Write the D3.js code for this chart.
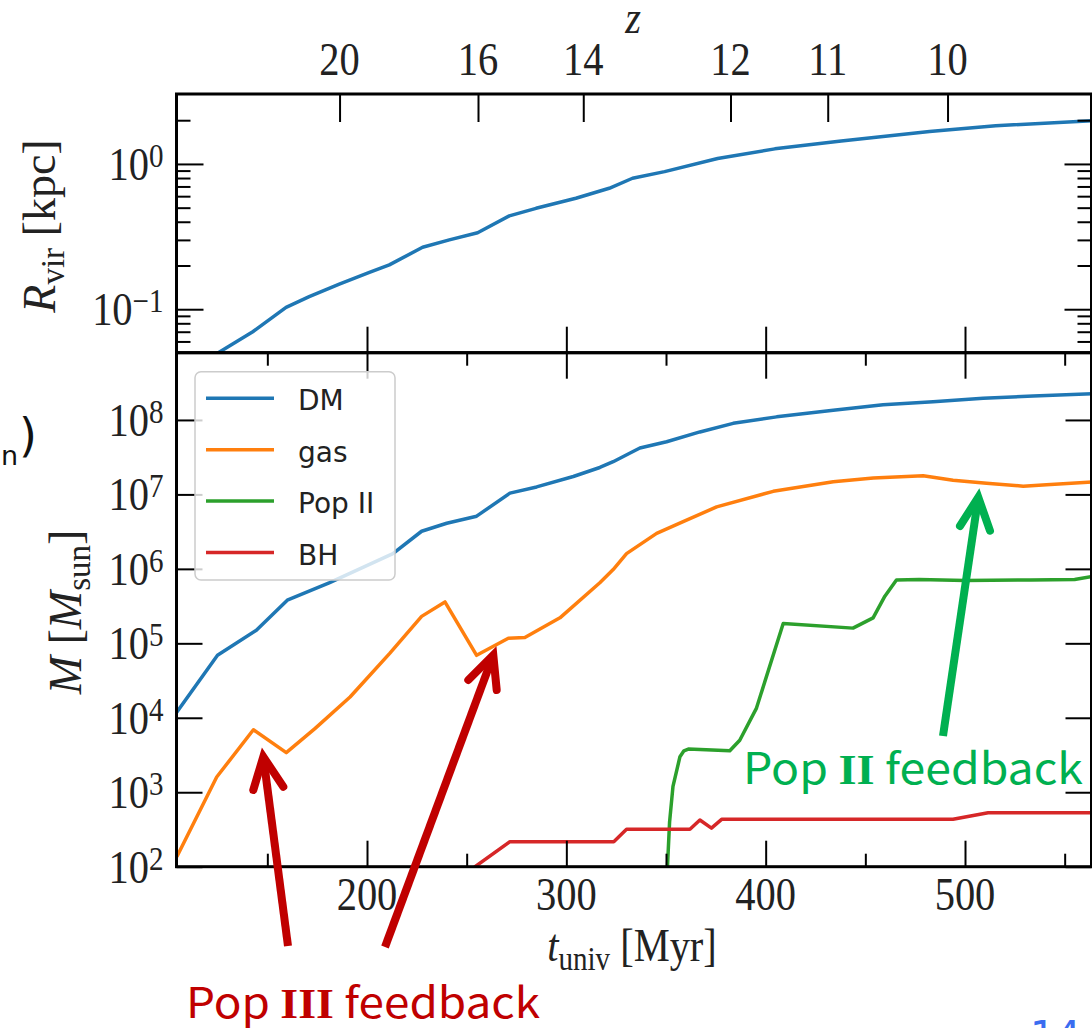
<!DOCTYPE html>
<html>
<head>
<meta charset="utf-8">
<script src="https://cdn.jsdelivr.net/npm/d3@7"></script>
<style>
  html, body { margin: 0; padding: 0; background: #fff; }
  svg { display: block; }
</style>
</head>
<body>
<svg id="fig" width="1092" height="1028"></svg>
<script>
// ---- halo assembly history: virial radius and component masses vs. cosmic time ----

// virial radius [kpc]
const tRvir = [122, 142.7, 159.4, 171, 186.1, 201.2, 211.2, 227.9, 241.3, 255.5, 271.4, 284.8, 304.8, 321.5, 333.2, 349.3, 375.9, 404.6, 437.9, 482.2, 515.4, 565];
const Rvir  = [0.047, 0.070, 0.103, 0.122, 0.149, 0.179, 0.202, 0.267, 0.300, 0.336, 0.439, 0.495, 0.581, 0.680, 0.797, 0.885, 1.09, 1.27, 1.44, 1.67, 1.83, 1.99];

// dark matter mass [Msun]
const tDM = [104.2, 125, 144.5, 160, 181, 213, 227.4, 240, 255, 271.7, 285.1, 303.5, 316.8, 323.5, 332, 336.9, 350.3, 367, 383.7, 405.5, 433.9, 458.9, 484, 509.1, 534.2, 565];
const mDM = [1.15e4, 6.9e4, 1.5e5, 3.8e5, 6.5e5, 1.6e6, 3.2e6, 4.1e6, 5.1e6, 1.04e7, 1.26e7, 1.74e7, 2.3e7, 2.75e7, 3.6e7, 4.2e7, 5.1e7, 6.9e7, 9.0e7, 1.1e8, 1.35e8, 1.6e8, 1.76e8, 1.95e8, 2.1e8, 2.25e8];

// gas mass [Msun]
const tGas = [104.6, 124.6, 143, 159.5, 174, 191.5, 211.5, 227.4, 239.1, 255, 270.9, 279.2, 296.8, 316.8, 323.5, 330.2, 345.3, 358.6, 375.4, 403.8, 433.9, 454, 479, 494, 510.8, 529.2, 540.9, 565];
const mGas = [136, 1.6e3, 6.9e3, 3.4e3, 7.2e3, 1.9e4, 7.4e4, 2.3e5, 3.6e5, 6.9e4, 1.17e5, 1.2e5, 2.2e5, 6.5e5, 9.8e5, 1.6e6, 3.0e6, 4.3e6, 6.8e6, 1.1e7, 1.48e7, 1.66e7, 1.78e7, 1.55e7, 1.41e7, 1.29e7, 1.35e7, 1.48e7];

// Pop II stellar mass [Msun]
const tPop2 = [350.2, 351.8, 353.5, 357, 359, 361.2, 382, 387, 395.4, 408.8, 443.8, 453.9, 459.8, 465.6, 477, 500, 533, 555, 565];
const mPop2 = [50, 400, 1200, 3000, 3600, 3800, 3600, 5000, 1.35e4, 1.85e5, 1.6e5, 2.2e5, 4.3e5, 7.1e5, 7.2e5, 7.0e5, 7.1e5, 7.2e5, 8.0e5];

// black hole mass [Msun]
const tBH = [252, 254.2, 271.7, 323.8, 330.2, 362, 367, 372.8, 377.9, 494, 511.6, 565];
const mBH = [85, 100, 217, 217, 318, 318, 424, 330, 433, 433, 531, 531];

// ticks
const tMajor = [200, 300, 400, 500];
const tMinor = [150, 250, 350, 450, 550];
const zTicks = [20, 16, 14, 12, 11, 10];
const rMajor = [0.1, 1];
const rMinor = [0.06, 0.07, 0.08, 0.09, 0.2, 0.3, 0.4, 0.5, 0.6, 0.7, 0.8, 0.9, 2];
const mMajor = [1e2, 1e3, 1e4, 1e5, 1e6, 1e7, 1e8];

const seriesNames  = ["DM", "gas", "Pop II", "BH"];
const seriesColors = ["#1f77b4", "#ff7f0e", "#2ca02c", "#d62728"];

// Einstein-de Sitter age-redshift relation (H0 = 70, Om = 0.27) for the top axis
const H0 = 70, Om = 0.27;
const hubbleTimeMyr = 977.8e3 / H0;
const ageMyr = z => (2 / 3) * hubbleTimeMyr / Math.sqrt(Om) * Math.pow(1 + z, -1.5);

// ---- layout ----
const L = 176.5, R = 1091.5, T = 94, MID = 352.7, B = 866.7;
const SERIF = "'Liberation Serif', 'Times New Roman', serif";
const SANS = "'DejaVu Sans', sans-serif";
const FS = 46, FS_SMALL = 33, SQ = 0.88;

const svg = d3.select("#fig");

const x = d3.scaleLinear().domain([104.43, 563.46]).range([L, R]);
const yTop = d3.scaleLog().domain([0.0502, 3.03]).range([MID, T]);
const yBot = d3.scaleLog().domain([100, 8.0e8]).range([B, MID]);

svg.append("defs").call(d => {
  d.append("clipPath").attr("id", "clipTop").append("rect")
    .attr("x", L).attr("y", T).attr("width", R - L).attr("height", MID - T);
  d.append("clipPath").attr("id", "clipBot").append("rect")
    .attr("x", L).attr("y", MID).attr("width", R - L).attr("height", B - MID);
});

// ---- data lines ----
function drawLine(ts, vs, yScale, color, clip) {
  const pts = ts.map((t, i) => [t, vs[i]]);
  svg.append("path")
    .datum(pts)
    .attr("clip-path", `url(#${clip})`)
    .attr("fill", "none")
    .attr("stroke", color)
    .attr("stroke-width", 3.5)
    .attr("stroke-linejoin", "round")
    .attr("d", d3.line().x(d => x(d[0])).y(d => yScale(d[1])));
}
drawLine(tRvir, Rvir, yTop, seriesColors[0], "clipTop");
drawLine(tDM, mDM, yBot, seriesColors[0], "clipBot");
drawLine(tGas, mGas, yBot, seriesColors[1], "clipBot");
drawLine(tPop2, mPop2, yBot, seriesColors[2], "clipBot");
drawLine(tBH, mBH, yBot, seriesColors[3], "clipBot");

// ---- ticks (inward, on all sides) ----
function tickGroup(axis, tx, ty) {
  const g = svg.append("g").attr("transform", `translate(${tx},${ty})`).call(axis);
  g.select(".domain").remove();
  g.selectAll("text").remove();
  g.selectAll("line").attr("stroke", "#000").attr("stroke-width", 2);
  return g;
}
// top panel
tickGroup(d3.axisTop(x).tickValues(zTicks.map(ageMyr)).tickSize(-28), 0, T);
tickGroup(d3.axisBottom(x).tickValues(tMajor).tickSize(-26), 0, MID);
tickGroup(d3.axisLeft(yTop).tickValues(rMajor).tickSize(-27), L, 0);
tickGroup(d3.axisLeft(yTop).tickValues(rMinor).tickSize(-14), L, 0);
tickGroup(d3.axisRight(yTop).tickValues(rMajor).tickSize(-27), R, 0);
tickGroup(d3.axisRight(yTop).tickValues(rMinor).tickSize(-14), R, 0);
// bottom panel
tickGroup(d3.axisTop(x).tickValues(tMajor).tickSize(-26), 0, MID);
tickGroup(d3.axisTop(x).tickValues(tMinor).tickSize(-13), 0, MID);
tickGroup(d3.axisBottom(x).tickValues(tMajor).tickSize(-26), 0, B);
tickGroup(d3.axisBottom(x).tickValues(tMinor).tickSize(-13), 0, B);
tickGroup(d3.axisLeft(yBot).tickValues(mMajor).tickSize(-26), L, 0);
tickGroup(d3.axisRight(yBot).tickValues(mMajor).tickSize(-26), R, 0);

// frames
svg.append("rect").attr("x", L).attr("y", T).attr("width", R - L).attr("height", MID - T)
  .attr("fill", "none").attr("stroke", "#000").attr("stroke-width", 3);
svg.append("rect").attr("x", L).attr("y", MID).attr("width", R - L).attr("height", B - MID)
  .attr("fill", "none").attr("stroke", "#000").attr("stroke-width", 3);

// ---- math-style text helper: parts = [{t, it, sub, sup}] ----
function mathText(px, py, anchor, parts, rot) {
  const g = svg.append("g").attr("transform", rot
    ? `translate(${px},${py}) rotate(-90)`
    : `translate(${px},${py}) scale(${SQ},1)`);
  const txt = g.append("text")
    .attr("text-anchor", anchor)
    .attr("font-family", SERIF)
    .attr("font-size", FS)
    .attr("fill", "#222");
  let cur = 0;
  parts.forEach(p => {
    const off = p.sup ? -13 : (p.sub ? 9 : 0);
    const ts = txt.append("tspan").text(p.t).attr("dy", off - cur);
    if (p.sup || p.sub) ts.attr("font-size", FS_SMALL);
    if (p.it) ts.attr("font-style", "italic");
    cur = off;
  });
  return g;
}
const expLabel = v => {
  const e = Math.round(Math.log10(v));
  return [{ t: "10" }, { t: (e < 0 ? "\u2212" : "") + Math.abs(e), sup: true }];
};

// y tick labels
rMajor.forEach(v => mathText(L - 13, yTop(v) + 16, "end", expLabel(v)));
mMajor.forEach(v => mathText(L - 13, yBot(v) + 16, "end", expLabel(v)));
// x tick labels
tMajor.forEach(v => mathText(x(v), 910, "middle", [{ t: String(v) }]));
// redshift tick labels
zTicks.forEach(z => mathText(x(ageMyr(z)), 75, "middle", [{ t: String(z) }]));

// axis titles
mathText(633, 33, "middle", [{ t: "z", it: true }]);
mathText(632, 961, "middle", [{ t: "t", it: true }, { t: "univ", sub: true }, { t: " [Myr]" }]);
mathText(55, 226, "middle", [{ t: "R", it: true }, { t: "vir", sub: true }, { t: " [kpc]" }], true);
mathText(81, 612, "middle", [{ t: "M", it: true }, { t: " [" }, { t: "M", it: true }, { t: "sun", sub: true }, { t: "]" }], true);

// ---- legend ----
const leg = svg.append("g");
leg.append("rect").attr("x", 195).attr("y", 371.7).attr("width", 200).attr("height", 208.3)
  .attr("rx", 6).attr("fill", "#fff").attr("fill-opacity", 0.8)
  .attr("stroke", "#cccccc").attr("stroke-width", 1.5);
seriesNames.forEach((name, i) => {
  const ly = 398.3 + i * 51.4;
  leg.append("line").attr("x1", 206).attr("x2", 274).attr("y1", ly).attr("y2", ly)
    .attr("stroke", seriesColors[i]).attr("stroke-width", 3.5);
  leg.append("text").attr("x", 298).attr("y", ly + 12)
    .attr("font-family", SANS).attr("font-size", 28).attr("fill", "#222").text(name);
});

// ---- annotations ----
function arrow(x0, y0, tip, w1, w2, color) {
  const g = svg.append("g").attr("stroke", color).attr("fill", "none").attr("stroke-width", 8);
  const dx = x0 - tip[0], dy = y0 - tip[1], len = Math.hypot(dx, dy);
  g.append("line").attr("x1", x0).attr("y1", y0)
    .attr("x2", tip[0] + dx / len * 7).attr("y2", tip[1] + dy / len * 7)
    .attr("stroke-linecap", "butt");
  g.append("path").attr("d", `M${w1[0]},${w1[1]}L${tip[0]},${tip[1]}L${w2[0]},${w2[1]}`)
    .attr("stroke-linecap", "round").attr("stroke-linejoin", "miter").attr("stroke-miterlimit", 10);
}
const RED = "#c00000", GREEN = "#00b050";
arrow(288, 946, [263.3, 756.7], [253.3, 790], [283.3, 786.7], RED);
arrow(385, 947, [493.3, 655], [468.3, 680], [496.7, 690], RED);
arrow(943, 736, [978.3, 497.3], [960, 526], [990, 530.7], GREEN);

function noteText(px, py, size, width, color, numeral) {
  const t = svg.append("text").attr("x", px).attr("y", py)
    .attr("font-family", "'Noto Sans CJK JP', 'Noto Sans', sans-serif")
    .attr("font-size", size).attr("fill", color)
    .attr("textLength", width).attr("lengthAdjust", "spacingAndGlyphs");
  t.append("tspan").text("Pop ");
  t.append("tspan").attr("font-family", SERIF).attr("font-weight", "bold").text(numeral);
  t.append("tspan").text(" feedback");
}
noteText(186, 1018, 42, 354, RED, "III");
noteText(743, 784, 43, 340, GREEN, "II");

// fragments of neighbouring slide text
svg.append("text").attr("x", 1).attr("y", 465).attr("font-family", SANS)
  .attr("font-size", 27).attr("fill", "#111").text("n");
svg.append("text").attr("x", 19).attr("y", 451).attr("font-family", SANS)
  .attr("font-size", 46).attr("fill", "#111").text(")");
svg.append("text").attr("x", 1030).attr("y", 1050).attr("font-family", SANS)
  .attr("font-size", 40).attr("fill", "#3b6cf0").text("14");
</script>
</body>
</html>
